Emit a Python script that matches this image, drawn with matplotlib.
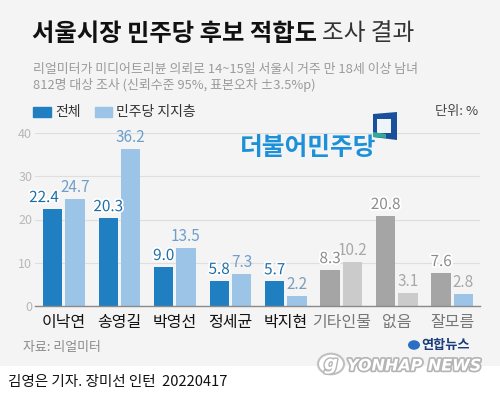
import matplotlib
matplotlib.use('Agg')
import matplotlib.pyplot as plt
import matplotlib.patheffects as pe
from matplotlib.patches import Rectangle, Circle, Polygon
import numpy as np

plt.rcParams['font.family'] = ['Noto Sans CJK KR', 'DejaVu Sans']

# data
names = ['이낙연', '송영길', '박영선', '정세균', '박지현', '기타인물', '없음', '잘모름']
total = [22.4, 20.3, 9.0, 5.8, 5.7, 8.3, 20.8, 7.6]
dem = [24.7, 36.2, 13.5, 7.3, 2.2, 10.2, 3.1, 2.8]
yticks = [0, 10, 20, 30, 40]

W, H = 500, 396
BG = '#f4f4f4'


def fx(x):
    return x / W


def fy(y):
    return 1 - y / H


fig = plt.figure(figsize=(5.0, 3.96), dpi=100, facecolor=BG)
fig.add_artist(Rectangle((0, 0), 1, fy(366), transform=fig.transFigure,
                         facecolor='white', edgecolor='none', zorder=0))

ax = fig.add_axes([fx(35), fy(306), fx(480) - fx(35), fy(133) - fy(306)])
ax.set_facecolor(BG)

dark_c = ['#1f7fc0'] * 5 + ['#a5a5a5'] * 3
light_c = ['#9cc4e6'] * 5 + ['#cbcbcb', '#cbcbcb', '#9cc4e6']
dark_t = ['#1c6ea8'] * 5 + ['#8c8c8c'] * 3
light_t = ['#6e9fcb'] * 4 + ['#7b9dba'] + ['#a8a8a8'] * 3

x = np.arange(len(names))
w = 0.35
off = 0.2
ax.bar(x - off, total, w, color=dark_c, zorder=3)
ax.bar(x + off, dem, w, color=light_c, zorder=3)

halo = [pe.withStroke(linewidth=2.5, foreground='white')]
for i in range(len(names)):
    nudge = -0.16 if i == 0 else 0
    ax.text(x[i] - off + nudge, total[i] + 0.7, f'{total[i]:.1f}', ha='center', va='bottom',
            fontsize=11, fontweight='medium', color=dark_t[i], path_effects=halo, zorder=5)
    ax.text(x[i] + off, dem[i] + 0.7, f'{dem[i]:.1f}', ha='center', va='bottom',
            fontsize=11, fontweight='medium', color=light_t[i], zorder=4)

ax.set_xlim(-0.52, 7.5)
ax.set_ylim(0, 40)
ax.set_yticks(yticks)
ax.set_yticklabels([str(t) for t in yticks], color='#b8b8b8', fontsize=9)
ax.grid(axis='y', color='#dedede', linewidth=0.8, zorder=0)
ax.set_xticks(x)
ax.set_xticklabels(names, fontsize=11.5)
for i, lab in enumerate(ax.get_xticklabels()):
    if i < 5:
        lab.set_color('#111111')
        lab.set_fontweight('medium')
    else:
        lab.set_color('#777777')
        lab.set_fontweight('light')
ax.tick_params(axis='both', length=0)
ax.tick_params(axis='x', pad=6)
ax.tick_params(axis='y', pad=2)
for s in ['top', 'right', 'left']:
    ax.spines[s].set_visible(False)
ax.spines['bottom'].set_color('#8a8a8a')
ax.spines['bottom'].set_linewidth(1.0)
ax.spines['bottom'].set_zorder(4)

# title & notes
t1 = fig.text(fx(32), fy(34), '서울시장 민주당 후보 적합도', fontsize=17.5, fontweight='bold',
              color='#111111', va='center', ha='left')
r = fig.canvas.get_renderer()
bb = t1.get_window_extent(r)
fig.text(bb.x1 / W + fx(5), fy(34), '조사 결과', fontsize=17, fontweight='light',
         color='#333333', va='center', ha='left')
fig.text(fx(33), fy(69), '리얼미터가 미디어트리뷴 의뢰로 14~15일 서울시 거주 만 18세 이상 남녀',
         fontsize=9.3, color='#9a9a9a', va='center', ha='left')
fig.text(fx(33), fy(85), '812명 대상 조사 (신뢰수준 95%, 표본오차 ±3.5%p)',
         fontsize=9.3, color='#9a9a9a', va='center', ha='left')

# legend
fig.add_artist(Rectangle((fx(33), fy(117)), fx(18), fy(107) - fy(117),
                         transform=fig.transFigure, color='#1f7fc0'))
fig.text(fx(55), fy(112), '전체', fontsize=10, color='#333333', va='center')
fig.add_artist(Rectangle((fx(95), fy(117)), fx(17), fy(107) - fy(117),
                         transform=fig.transFigure, color='#9cc4e6'))
fig.text(fx(116), fy(112), '민주당 지지층', fontsize=10, color='#333333', va='center')
fig.text(fx(478), fy(112), '단위: %', fontsize=9.5, color='#444444', va='center', ha='right')

# party logo
fig.text(fx(240), fy(148), '더불어민주당', fontsize=17.8, fontweight='heavy',
         color='#1c90d8', va='center', ha='left')
fig.add_artist(Polygon([(fx(373), fy(114)), (fx(397), fy(112)), (fx(397), fy(140)), (fx(373), fy(137))],
                       closed=True, transform=fig.transFigure, facecolor='#1a4f9c', edgecolor='none'))
fig.add_artist(Rectangle((fx(377), fy(133)), fx(14), fy(119) - fy(133),
                         transform=fig.transFigure, facecolor='#eef4f8', edgecolor='none'))
fig.add_artist(Polygon([(fx(373), fy(132)), (fx(386), fy(134)), (fx(386), fy(138)), (fx(373), fy(137))],
                       closed=True, transform=fig.transFigure, facecolor='#35a89a', edgecolor='none'))

# source, yonhap, byline
fig.text(fx(23), fy(348), '자료: 리얼미터', fontsize=9.3, color='#8a8a8a', va='center')
fig.add_artist(Circle((fx(414), fy(345)), 0.012, transform=fig.transFigure,
                      facecolor='#2a6fc4', edgecolor='none'))
fig.text(fx(421), fy(345), '연합뉴스', fontsize=9.5, fontweight='bold', color='#1a3c7a', va='center')
fig.add_artist(Circle((fx(331), fy(364)), 0.026, transform=fig.transFigure,
                      facecolor='white', edgecolor='#c0c0c0', linewidth=1.5))
fig.text(fx(331), fy(364), 'g', fontsize=14, fontweight='bold', style='italic', color='white',
         ha='center', va='center', family='DejaVu Sans',
         path_effects=[pe.withStroke(linewidth=2, foreground='#b5b5b5')])
fig.text(fx(347), fy(366), 'YONHAP NEWS', fontsize=11.5, fontweight='bold', style='italic',
         color='white', va='center', family='DejaVu Sans',
         path_effects=[pe.withStroke(linewidth=2.5, foreground='#b5b5b5')])
fig.text(fx(8), fy(382), '김영은 기자. 장미선 인턴  20220417', fontsize=10.5,
         color='#111111', va='center')

fig.savefig('out.png', dpi=100, facecolor=fig.get_facecolor())
